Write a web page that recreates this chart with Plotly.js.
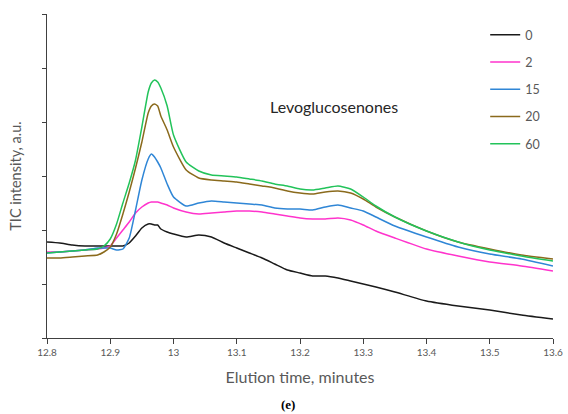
<!DOCTYPE html>
<html>
<head>
<meta charset="utf-8">
<script src="https://cdn.plot.ly/plotly-3.0.1.min.js"></script>
<style>html,body{margin:0;padding:0;background:#fff;}#chart{width:568px;height:414px;}</style>
</head>
<body>
<div id="chart"></div>
<script>
// Elution time (minutes)
const times = [12.80,12.82,12.84,12.86,12.88,12.89,12.90,12.91,12.92,12.93,12.94,12.95,12.96,12.965,12.97,12.975,12.98,12.99,13.00,
  13.02,13.04,13.06,13.08,13.10,13.12,13.14,13.16,13.18,13.20,13.22,13.24,13.26,13.28,13.30,13.32,
  13.35,13.40,13.45,13.50,13.55,13.60];

// TIC intensity (a.u.) for each series
const s0  = [96,95,93,92,92,92,92,92,92,95,102,110,114,114,113,113,109,106,104,101,103,101,95,90,85,80,74,68,65,62,62,60,57,54,51,46,37,32,28,23,19];
const s2  = [86,86,87,88,89,90,92,100,108,116,125,131,135,136,136,136,135,133,130,126,124,125,126,127,127,126,124,122,120,119,119,120,118,113,107,100,89,82,76,72,67];
const s15 = [85,86,87,88,90,90,90,88,89,100,128,158,179,184,181,176,170,154,141,132,135,137,136,135,134,133,130,129,129,128,131,133,130,127,121,112,101,91,84,79,72];
const s20 = [80,80,81,82,83,86,91,104,124,146,170,196,225,232,234,232,222,208,191,168,160,158,157,156,154,152,150,147,145,144,146,147,145,139,131,121,107,96,89,83,79];
const s60 = [85,86,87,88,89,92,99,114,135,155,178,211,246,255,258,256,250,232,203,176,167,163,162,161,159,157,154,152,149,148,150,152,149,141,132,121,107,96,88,82,77];

const seriesNames = ["0","2","15","20","60"];
const seriesColors = ["#1a1a1a","#ff33cc","#2f86d6","#8a6a1c","#22c35a"];
const seriesData = [s0,s2,s15,s20,s60];

const xTickVals = [12.8,12.9,13.0,13.1,13.2,13.3,13.4,13.5,13.6];
const xTickText = ["12.8","12.9","13","13.1","13.2","13.3","13.4","13.5","13.6"];
const yTickVals = [0,54,108,162,216,270,324];

const traces = seriesData.map((d,i)=>({
  x: times, y: d, type: "scatter", mode: "lines", name: seriesNames[i],
  legendgroup: "g"+i,
  line: {color: seriesColors[i], width: 1.5, shape: "spline", smoothing: 0.5}
}));

const layout = {
  width: 568, height: 414,
  margin: {l: 47, r: 15, t: 14, b: 76},
  paper_bgcolor: "#fff", plot_bgcolor: "#fff",
  font: {family: "Lato, 'Open Sans', sans-serif", color: "#595959"},
  xaxis: {
    range: [12.8, 13.6], tickvals: xTickVals, ticktext: xTickText,
    showgrid: false, zeroline: false, showline: true, linecolor: "#404040", linewidth: 1,
    ticks: "outside", ticklen: 5, tickcolor: "#404040", tickfont: {size: 10, color: "#595959"},
    title: {text: "Elution time, minutes", font: {size: 16, color: "#595959"}, standoff: 14}
  },
  yaxis: {
    range: [0, 324], tickvals: yTickVals, showticklabels: false,
    showgrid: false, zeroline: false, showline: true, linecolor: "#404040", linewidth: 1,
    ticks: "outside", ticklen: 4, tickcolor: "#404040",
    title: {text: "TIC intensity, a.u.", font: {size: 14.5, color: "#595959"}, standoff: 16}
  },
  legend: {
    x: 0.866, y: 0.981, xanchor: "left", yanchor: "top",
    bgcolor: "rgba(0,0,0,0)", borderwidth: 0,
    traceorder: "grouped", tracegroupgap: 8,
    font: {size: 12.5, color: "#595959"}
  },
  annotations: [
    {xref: "paper", yref: "paper", x: 0.437, y: 0.716, xanchor: "left", yanchor: "middle",
     text: "Levoglucosenones", showarrow: false, font: {size: 16, color: "#262626"}},
    {xref: "paper", yref: "paper", x: 0.477, y: -0.205, xanchor: "center", yanchor: "middle",
     text: "<b>(e)</b>", showarrow: false, font: {family: "'Liberation Serif', 'DejaVu Serif', serif", size: 13, color: "#000"}}
  ],
  showlegend: true
};

Plotly.newPlot("chart", traces, layout, {displayModeBar: false, staticPlot: true});
</script>
</body>
</html>
